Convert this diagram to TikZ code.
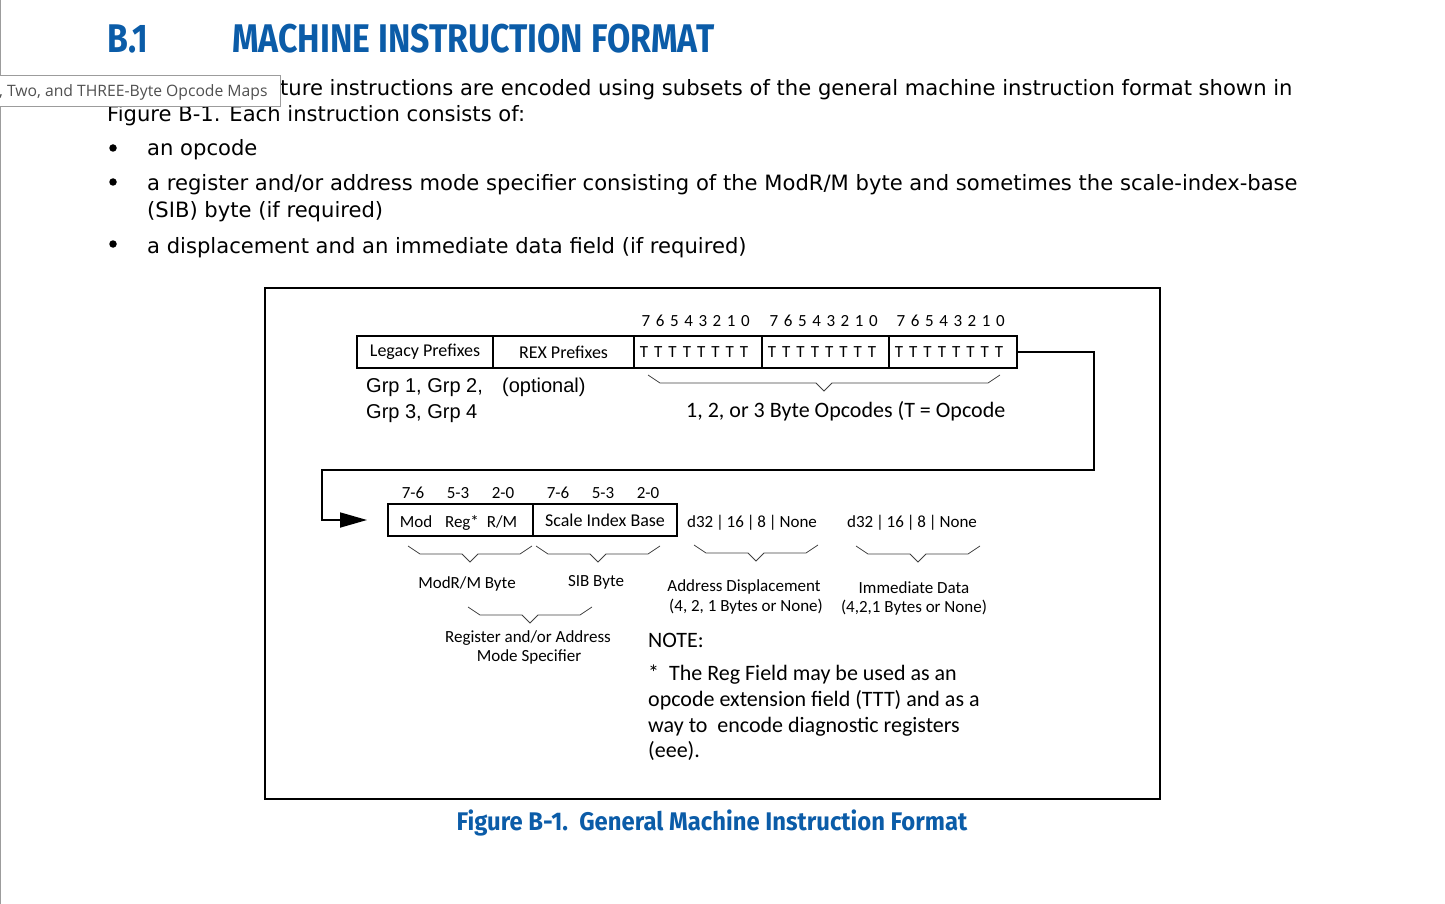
\documentclass[tikz,border=0pt]{standalone}
\usepackage{fontspec}
\setmainfont{DejaVu Sans}
\newfontfamily\headfont{Fira Sans}[FakeStretch=0.845]
\newfontfamily\captfont{Fira Sans}[FakeStretch=0.935]
\newfontfamily\figfont{Carlito}
\newfontfamily\grpfont{Liberation Sans}
\newfontfamily\tipfont{Open Sans}
\usetikzlibrary{positioning,arrows.meta,calc}
\definecolor{intelC}{HTML}{0B5CA8}
\definecolor{tipC}{HTML}{9C9C9C}
\definecolor{tipT}{HTML}{505050}
\newcommand{\fs}[1]{\fontsize{#1}{#1}\selectfont}
% brace under a field: left x, right x, top y
\newcommand{\fieldbrace}[3]{%
  \draw[brc] (#1,#3) -- (#1+12,#3+8) -- ({(#1+#2)/2-8},#3+8) -- ({(#1+#2)/2},#3+16)
    -- ({(#1+#2)/2+8},#3+8) -- (#2-12,#3+8) -- (#2,#3);}
\tikzset{
  field/.style={draw, line width=1.6pt, outer sep=0pt, inner sep=0pt,
                minimum height=32pt, font=\figfont\fs{18}},
  lbl/.style={inner sep=0pt, font=\figfont\fs{17}},
  bigl/.style={inner sep=0pt, font=\figfont\fs{22}},
  grp/.style={inner sep=0pt, font=\grpfont\fs{20}},
  bitno/.style={inner sep=0pt, font=\figfont\fs{17}},
  tee/.style={inner sep=0pt, font=\figfont\fs{17}},
  head/.style={inner sep=0pt, text=intelC, font=\headfont\bfseries\fs{40}},
  capt/.style={inner sep=0pt, text=intelC, font=\captfont\bfseries\fs{25.5}},
  body/.style={inner sep=0pt, font=\fs{21.1}},
  dot/.style={circle, fill, inner sep=0pt, minimum size=7.5pt},
  tip/.style={draw=tipC, fill=white, line width=0.8pt, minimum width=281pt,
              minimum height=31pt, inner sep=0pt},
  tiptext/.style={inner sep=0pt, text=tipT, font=\tipfont\fs{15.7}},
  brc/.style={line width=0.8pt, draw=black!75},
  feed/.style={line width=1.8pt, -{Triangle[length=27pt,width=15pt]}, shorten >=21pt},
}
\begin{document}
\begin{tikzpicture}[x=1pt,y=-1pt]
\useasboundingbox (0,0) rectangle (1445,904);
\clip (0,0) rectangle (1445,904);
\draw[tipC, line width=0.8pt] (0.5,0) -- (0.5,904);

% heading and text of the page
\node[head, anchor=base west] (secno) at (107,53) {B.1};
\node[head, anchor=base west] (sectitle) at (232,53) {MACHINE INSTRUCTION FORMAT};
\node[body, anchor=base west] (line1) at (280,96)
  {ture instructions are encoded using subsets of the general machine instruction format shown in};
\node[body, anchor=base west] (line2) at (107,122) {Figure B-1. Each instruction consists of:};
\node[tip, anchor=north west] (tip) at (-1,75) {};
\node[tiptext, anchor=base west] (tiptext) at (-1,97) {, Two, and THREE-Byte Opcode Maps};
\foreach \yy [count=\k] in {148,182,244}
  \node[dot] (dot\k) at (113,\yy) {};
\node[body, anchor=base west] (item1) at (147,156) {an opcode};
\node[body, anchor=base west] (item2) at (147,191)
  {a register and/or address mode specifier consisting of the ModR/M byte and sometimes the scale-index-base};
\node[body, anchor=base west] (item2b) at (147,218) {(SIB) byte (if required)};
\node[body, anchor=base west] (item3) at (147,253) {a displacement and an immediate data field (if required)};

% figure frame
\draw[line width=1.8pt] (265,288) rectangle (1160,799);

% first row: prefixes and opcode bytes
\node[field, minimum width=136pt, anchor=north west] (legacy) at (357,336) {Legacy Prefixes};
\node[field, minimum width=141pt, right=0pt of legacy] (rex) {REX Prefixes};
\node[field, minimum width=128pt, right=0pt of rex] (op1) {};
\node[field, minimum width=127pt, right=0pt of op1] (op2) {};
\node[field, minimum width=128pt, right=0pt of op2] (op3) {};
\foreach \b in {op1,op2,op3} {
  \foreach \d [count=\k] in {7,...,0}
    \node[bitno, anchor=base] (\b-d\d) at ($(\b.north west)+(12+14.2*\k-14.2,-10)$) {\d};
  \foreach \k in {1,...,8}
    \node[tee, anchor=base] (\b-t\k) at ($(\b.north west)+(10+14.3*\k-14.3,21)$) {T};
}
\node[grp, anchor=base west] (grpa) at (366,392) {Grp 1, Grp 2,};
\node[grp, anchor=base west] (grpb) at (366,418) {Grp 3, Grp 4};
\node[grp, anchor=base west] (optl) at (502,392) {(optional)};
\fieldbrace{648}{1000}{375}
\node[bigl, anchor=base west] (opcl) at (686,417) {1, 2, or 3 Byte Opcodes (T = Opcode};

% second row: ModR/M, SIB, displacement, immediate
\node[field, minimum width=145pt, anchor=north west] (modrm) at (388,504) {};
\node[field, minimum width=144pt, right=0pt of modrm] (sib) {Scale Index Base};
\node[lbl, anchor=base] (modf) at (416,527) {Mod};
\node[lbl, anchor=base] (regf) at (462,527) {Reg*};
\node[lbl, anchor=base] (rmf) at (502,527) {R/M};
\foreach \b in {modrm,sib}
  \foreach \r [count=\k] in {7-6,5-3,2-0}
    \node[lbl, anchor=base] (\b-r\k) at ($(\b.north west)+(-20+45*\k,-6)$) {\r};
\node[lbl, anchor=base] (disp) at (752,527) {d32\,|\,16\,|\,8\,|\,None};
\node[lbl, anchor=base] (imm) at (912,527) {d32\,|\,16\,|\,8\,|\,None};

\fieldbrace{408}{532}{546}
\fieldbrace{536}{660}{546}
\fieldbrace{694}{818}{545}
\fieldbrace{856}{980}{546}
\fieldbrace{468}{592}{607}
\node[lbl, anchor=base] (modrml) at (467,588) {ModR/M Byte};
\node[lbl, anchor=base] (sibl) at (596,586) {SIB Byte};
\node[lbl, anchor=base] (displ) at (744,591) {Address Displacement};
\node[lbl, anchor=base] (displb) at (746,611) {(4, 2, 1 Bytes or None)};
\node[lbl, anchor=base] (imml) at (914,593) {Immediate Data};
\node[lbl, anchor=base] (immlb) at (914,612) {(4,2,1 Bytes or None)};
\node[lbl, anchor=base] (regl) at (528,642) {Register and/or Address};
\node[lbl, anchor=base] (regb) at (529,661) {Mode Specifier};

% note
\node[bigl, anchor=base west] (notehd) at (648,647) {NOTE:};
\foreach \txt [count=\k] in {*\ \ The Reg Field may be used as an,
    opcode extension field (TTT) and as a, way to\ \ encode diagnostic registers, (eee).}
  \node[bigl, anchor=base west] (note\k) at (648,655+25.7*\k) {\txt};

% feed from the last opcode byte to ModR/M
\draw[feed] (op3.east) -| (1094,470) -- (322,470) |- (modrm.west);

\node[capt, anchor=base] (caption) at (712,830) {Figure B-1.\ \ General Machine Instruction Format};
\end{tikzpicture}
\end{document}
